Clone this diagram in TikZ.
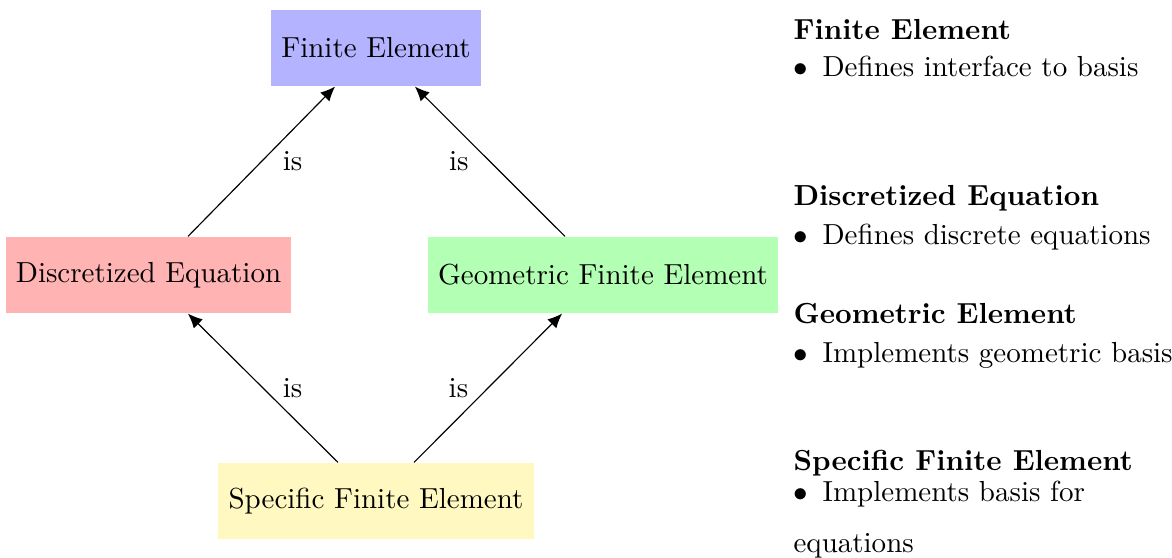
\documentclass[tikz,border=0pt]{standalone}
\usetikzlibrary{arrows.meta}
\definecolor{boxblue}{RGB}{179,179,255}
\definecolor{boxred}{RGB}{255,179,179}
\definecolor{boxgreen}{RGB}{179,255,179}
\definecolor{boxyellow}{RGB}{255,249,193}
\newcommand{\bulletitem}{$\bullet$\hspace{5pt}}
\tikzset{
  box/.style={minimum height=26.2pt, inner sep=0pt, text=black},
  rel/.style={-{Latex[length=5pt,width=4.4pt]}, line width=0.4pt},
  lbl/.style={midway, inner sep=0pt},
  side/.style={anchor=base west, inner sep=0pt},
}
\begin{document}
\begin{tikzpicture}[x=0.3448pt, y=-0.3448pt]
\useasboundingbox (0,0) rectangle (1172,558);
\node[box, fill=boxblue, minimum width=72.4pt] (fe) at (376,48) {Finite Element};
\node[box, fill=boxred, minimum width=98.3pt] (de) at (148.5,275) {Discretized Equation};
\node[box, fill=boxgreen, minimum width=120.7pt] (gfe) at (603,275) {Geometric Finite Element};
\node[box, fill=boxyellow, minimum width=109pt] (sfe) at (376,501) {Specific Finite Element};

\draw[rel] ([xshift=13.6pt]de.north) -- node[lbl, xshift=10.7pt] (l1) {is} ([xshift=-14.1pt]fe.south);
\draw[rel] ([xshift=-13.1pt]gfe.north) -- node[lbl, xshift=-10.7pt] (l2) {is} ([xshift=13.4pt]fe.south);
\draw[rel] ([xshift=-13.1pt]sfe.north) -- node[lbl, xshift=10.2pt] (l3) {is} ([xshift=13.6pt]de.south);
\draw[rel] ([xshift=13.1pt]sfe.north) -- node[lbl, xshift=-10.2pt] (l4) {is} ([xshift=-14.1pt]gfe.south);

\node[side] (t1) at (793,40) {\textbf{Finite Element}};
\node[side] (b1) at (793,77) {\bulletitem Defines interface to basis};
\node[side] (t2) at (793,206) {\textbf{Discretized Equation}};
\node[side] (b2) at (793,245) {\bulletitem Defines discrete equations};
\node[side] (t3) at (793,323) {\textbf{Geometric Element}};
\node[side] (b3) at (793,362) {\bulletitem Implements geometric basis};
\node[side] (t4) at (793,470) {\textbf{Specific Finite Element}};
\node[side] (b4) at (793,501) {\bulletitem Implements basis for};
\node[side] (b5) at (793,552) {equations};
\end{tikzpicture}
\end{document}
